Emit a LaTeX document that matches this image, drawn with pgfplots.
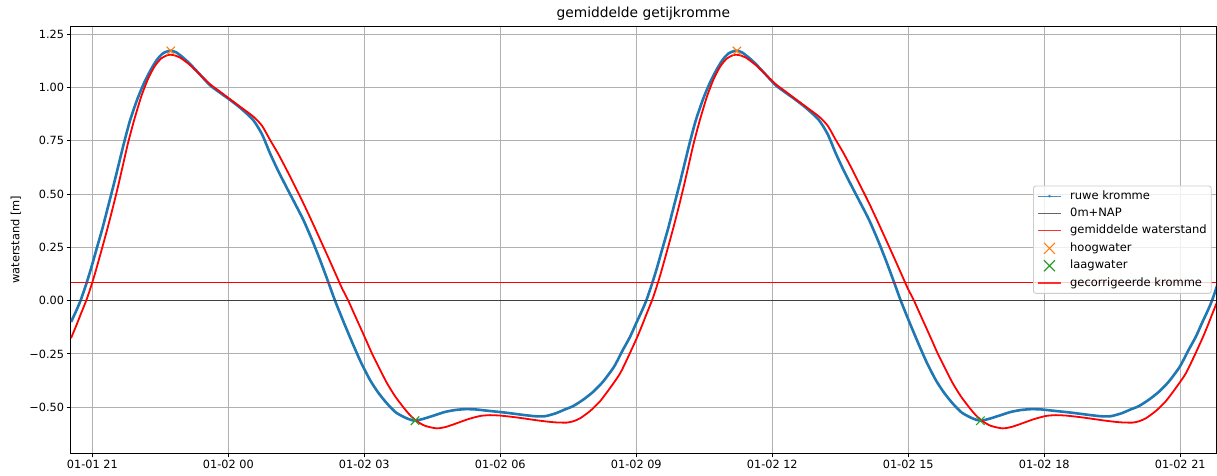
\documentclass[border=0pt]{standalone}
\usepackage{fontspec}
\setmainfont{DejaVu Sans}
\usepackage{pgfplots}
\usepackage{pgfplotstable}
\pgfplotsset{compat=1.18}

\definecolor{tabblue}{HTML}{1F77B4}
\definecolor{taborange}{HTML}{FF7F0E}
\definecolor{tabgreen}{HTML}{2CA02C}
\definecolor{gridgray}{HTML}{B0B0B0}
\definecolor{legendgray}{HTML}{CCCCCC}
\definecolor{purered}{RGB}{255,0,0}
\definecolor{napgray}{HTML}{404040}

\pgfplotsset{
  dotlegend/.style={legend image code/.code={
    \path[fill=tabblue, draw=none, sharp corners] (0bp,-0.55bp) rectangle (23bp,0.55bp);
    \path[fill=tabblue, draw=none] (11.5bp,0bp) circle (1.5bp);}},
  naplegend/.style={legend image code/.code={
    \path[fill=napgray, draw=none, sharp corners] (0bp,-0.55bp) rectangle (23bp,0.55bp);}},
  meanlegend/.style={legend image code/.code={
    \path[fill=purered, draw=none, sharp corners] (0bp,-0.5bp) rectangle (23bp,0.5bp);}},
  corrlegend/.style={legend image code/.code={
    \path[fill=purered, draw=none, sharp corners] (0bp,-0.9bp) rectangle (23bp,0.9bp);}},
  hwlegend/.style={legend image code/.code={
    \path[draw=taborange, line width=1.1bp, sharp corners] (6bp,-5.5bp) -- (17bp,5.5bp) (6bp,5.5bp) -- (17bp,-5.5bp);}},
  lwlegend/.style={legend image code/.code={
    \path[draw=tabgreen, line width=1.1bp, sharp corners] (6bp,-5.5bp) -- (17bp,5.5bp) (6bp,5.5bp) -- (17bp,-5.5bp);}},
}

% time in hours since 01-01 00:00, water level in m
\pgfplotstableread{
t h
20.530 -0.100
20.640 -0.050
20.740 0.000
20.861 0.075
20.971 0.150
21.104 0.250
21.221 0.337
21.346 0.440
21.479 0.550
21.589 0.645
21.699 0.740
21.832 0.845
21.993 0.945
22.140 1.020
22.288 1.082
22.427 1.130
22.560 1.160
22.714 1.172
22.846 1.165
23.001 1.140
23.155 1.110
23.376 1.060
23.596 1.010
23.817 0.975
24.016 0.945
24.258 0.905
24.545 0.848
24.744 0.780
24.920 0.691
25.097 0.610
25.288 0.530
25.472 0.455
25.655 0.379
25.847 0.285
26.023 0.191
26.200 0.090
26.354 0.000
26.553 -0.105
26.751 -0.205
26.928 -0.290
27.126 -0.372
27.303 -0.430
27.495 -0.481
27.700 -0.525
27.936 -0.552
28.119 -0.563
28.339 -0.552
28.560 -0.537
28.781 -0.522
29.001 -0.513
29.222 -0.509
29.442 -0.510
29.663 -0.515
29.884 -0.520
30.104 -0.525
30.325 -0.531
30.546 -0.537
30.766 -0.542
30.987 -0.542
31.229 -0.528
31.428 -0.510
31.604 -0.495
31.825 -0.465
32.046 -0.428
32.266 -0.380
32.509 -0.310
32.707 -0.230
32.862 -0.170
33.010 -0.100
33.120 -0.050
33.220 0.000
33.341 0.075
33.451 0.150
33.584 0.250
33.701 0.337
33.826 0.440
33.959 0.550
34.069 0.645
34.179 0.740
34.312 0.845
34.473 0.945
34.620 1.020
34.768 1.082
34.907 1.130
35.040 1.160
35.194 1.172
35.326 1.165
35.481 1.140
35.635 1.110
35.856 1.060
36.076 1.010
36.297 0.975
36.496 0.945
36.738 0.905
37.025 0.848
37.224 0.780
37.400 0.691
37.577 0.610
37.768 0.530
37.952 0.455
38.135 0.379
38.327 0.285
38.503 0.191
38.680 0.090
38.834 0.000
39.033 -0.105
39.231 -0.205
39.408 -0.290
39.606 -0.372
39.783 -0.430
39.975 -0.481
40.180 -0.525
40.416 -0.552
40.599 -0.563
40.819 -0.552
41.040 -0.537
41.261 -0.522
41.481 -0.513
41.702 -0.509
41.922 -0.510
42.143 -0.515
42.364 -0.520
42.584 -0.525
42.805 -0.531
43.026 -0.537
43.246 -0.542
43.467 -0.542
43.709 -0.528
43.908 -0.510
44.084 -0.495
44.305 -0.465
44.526 -0.428
44.746 -0.380
44.989 -0.310
45.187 -0.230
45.342 -0.170
45.490 -0.100
45.600 -0.050
45.700 0.000
45.821 0.075
}\ruwe

\pgfplotstableread{
t h
20.530 -0.176
20.640 -0.120
20.751 -0.060
20.865 0.000
20.949 0.052
21.049 0.120
21.192 0.228
21.342 0.345
21.457 0.440
21.563 0.532
21.677 0.637
21.783 0.735
21.920 0.845
22.079 0.957
22.229 1.040
22.372 1.098
22.516 1.135
22.666 1.152
22.780 1.152
22.935 1.140
23.155 1.105
23.376 1.060
23.596 1.015
23.817 0.980
24.016 0.948
24.258 0.910
24.552 0.863
24.744 0.820
24.920 0.754
25.097 0.690
25.288 0.613
25.472 0.535
25.655 0.457
25.847 0.370
26.023 0.288
26.200 0.205
26.376 0.121
26.508 0.058
26.647 0.000
26.773 -0.060
26.905 -0.122
27.038 -0.185
27.170 -0.248
27.303 -0.305
27.495 -0.385
27.678 -0.448
27.861 -0.500
28.009 -0.537
28.156 -0.565
28.339 -0.587
28.597 -0.599
28.803 -0.592
29.039 -0.575
29.288 -0.556
29.553 -0.541
29.773 -0.537
29.994 -0.539
30.259 -0.545
30.508 -0.552
30.766 -0.560
31.024 -0.567
31.229 -0.571
31.465 -0.572
31.604 -0.566
31.759 -0.552
31.979 -0.518
32.200 -0.472
32.421 -0.410
32.641 -0.342
32.818 -0.265
33.010 -0.176
33.120 -0.120
33.231 -0.060
33.345 0.000
33.429 0.052
33.529 0.120
33.672 0.228
33.822 0.345
33.937 0.440
34.043 0.532
34.157 0.637
34.263 0.735
34.400 0.845
34.559 0.957
34.709 1.040
34.852 1.098
34.996 1.135
35.146 1.152
35.260 1.152
35.415 1.140
35.635 1.105
35.856 1.060
36.076 1.015
36.297 0.980
36.496 0.948
36.738 0.910
37.032 0.863
37.224 0.820
37.400 0.754
37.577 0.690
37.768 0.613
37.952 0.535
38.135 0.457
38.327 0.370
38.503 0.288
38.680 0.205
38.856 0.121
38.988 0.058
39.127 0.000
39.253 -0.060
39.385 -0.122
39.518 -0.185
39.650 -0.248
39.783 -0.305
39.975 -0.385
40.158 -0.448
40.341 -0.500
40.489 -0.537
40.636 -0.565
40.819 -0.587
41.077 -0.599
41.283 -0.592
41.519 -0.575
41.768 -0.556
42.033 -0.541
42.253 -0.537
42.474 -0.539
42.739 -0.545
42.988 -0.552
43.246 -0.560
43.504 -0.567
43.709 -0.571
43.945 -0.572
44.084 -0.566
44.239 -0.552
44.459 -0.518
44.680 -0.472
44.901 -0.410
45.121 -0.342
45.298 -0.265
45.490 -0.176
45.600 -0.120
45.711 -0.060
45.825 0.000
}\gecorrigeerd

\begin{document}
\begin{tikzpicture}
\begin{axis}[
  name=ax,
  scale only axis,
  width=1145.3bp, height=427.3bp,
  xmin=20.523, xmax=45.789,
  ymin=-0.716, ymax=1.288,
  xtick={21,24,27,30,33,36,39,42,45},
  xticklabels={01-01 21,01-02 00,01-02 03,01-02 06,01-02 09,01-02 12,01-02 15,01-02 18,01-02 21},
  ytick={-0.5,-0.25,0,0.25,0.5,0.75,1,1.25},
  yticklabels={−0.50,−0.25,0.00,0.25,0.50,0.75,1.00,1.25},
  tick label style={font=\fontsize{11.3bp}{13bp}\selectfont, color=black},
  xticklabel style={inner sep=0pt, text height=8.3bp, text depth=0pt, anchor=north, yshift=-3bp},
  yticklabel style={inner sep=0pt, anchor=east, xshift=-2.5bp},
  tick pos=left,
  tick align=outside,
  major tick length=4bp,
  tick style={line width=0.9bp, black},
  axis line style={line width=0.9bp, black},
  grid=major,
  major grid style={line width=0.9bp, color=gridgray},
  legend cell align=left,
  legend style={
    at={(1,0.5)}, anchor=east, xshift=-4.3bp,
    draw=legendgray, line width=0.9bp, rounded corners=2.5bp,
    fill=white, fill opacity=0.8, draw opacity=1, text opacity=1,
    font=\fontsize{11.5bp}{13bp}\selectfont,
    inner xsep=4.5bp, inner ysep=1.5bp,
    row sep=0bp,
    nodes={inner sep=0pt, text height=11.7bp, text depth=5.7bp},
    /tikz/every odd column/.append style={column sep=9.2bp},
  },
]
\addplot[color=tabblue, line width=2.6bp, smooth, tension=0.4, dotlegend]
  table[x=t, y=h] {\ruwe};
\addlegendentry{ruwe kromme}

\addplot[color=napgray, line width=1.1bp, naplegend]
  coordinates {(20.523,0) (45.789,0)};
\addlegendentry{0m+NAP}

\addplot[color=purered, line width=0.9bp, meanlegend]
  coordinates {(20.523,0.086) (45.789,0.086)};
\addlegendentry{gemiddelde waterstand}

\addplot[only marks, mark=x, mark size=6bp, color=taborange,
  mark options={line width=1.1bp}, hwlegend]
  coordinates {(22.73,1.171) (35.22,1.171)};
\addlegendentry{hoogwater}

\addplot[only marks, mark=x, mark size=6bp, color=tabgreen,
  mark options={line width=1.1bp}, lwlegend]
  coordinates {(28.12,-0.563) (40.59,-0.563)};
\addlegendentry{laagwater}

\addplot[color=purered, line width=1.8bp, smooth, tension=0.4, corrlegend]
  table[x=t, y=h] {\gecorrigeerd};
\addlegendentry{gecorrigeerde kromme}
\end{axis}

\node[anchor=base, font=\fontsize{13.8bp}{16bp}\selectfont]
  at ([yshift=8bp]ax.north) {gemiddelde getijkromme};
\node[anchor=base, rotate=90, font=\fontsize{11.4bp}{13bp}\selectfont]
  at ([xshift=-51.2bp]ax.west) {waterstand [m]};

\pgfresetboundingbox
\path ([xshift=-70.7bp, yshift=-21.7bp]ax.south west)
  rectangle ([xshift=1bp, yshift=26bp]ax.north east);
\end{tikzpicture}
\end{document}
